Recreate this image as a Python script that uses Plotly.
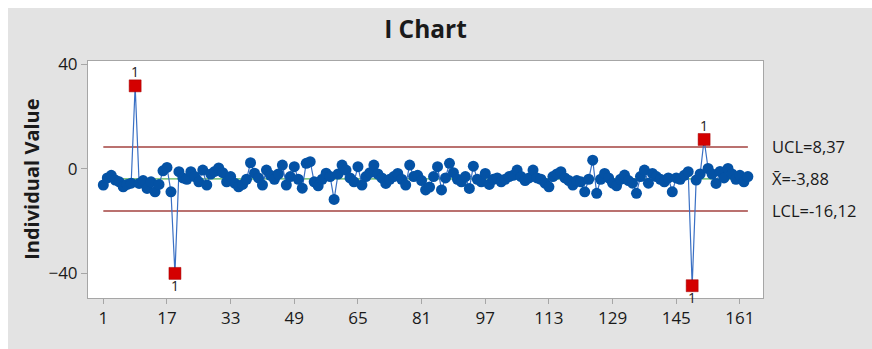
import plotly.graph_objects as go

# Individual observations (in order)
values = [
    -6.2, -3.5, -2.5, -4.3, -5.0, -6.9, -6.0, -5.5, 31.7, -5.6,
    -4.5, -7.5, -5.0, -8.8, -6.0, -0.8, 0.5, -8.8, -40.0, -1.1,
    -3.5, -4.0, -1.1, -3.0, -5.0, -0.5, -6.2, -2.0, -1.0, 0.3,
    -1.5, -5.0, -3.0, -5.5, -6.9, -6.0, -4.0, 2.3, -1.7, -3.5,
    -6.2, -0.5, -2.5, -4.0, -2.0, 1.4, -6.2, -3.0, 0.8, -4.0,
    -7.4, 2.1, 2.7, -5.0, -6.5, -4.0, -1.7, -3.0, -11.7, -2.0,
    1.4, -0.5, -3.5, -5.0, 0.8, -6.2, -3.0, -1.5, 1.4, -2.0,
    -3.5, -5.6, -4.0, -3.0, -1.8, -4.0, -6.2, 1.4, -3.0, -2.5,
    -4.5, -8.1, -7.0, -3.0, 0.8, -8.1, -3.5, 2.1, -1.5, -4.0,
    -5.0, -3.0, -7.5, 1.0, -4.0, -5.0, -1.8, -6.0, -4.0, -3.5,
    -5.0, -4.0, -3.0, -2.5, -0.5, -3.0, -4.5, -3.5, -0.5, -3.5,
    -4.0, -5.5, -6.9, -3.0, -2.0, -1.1, -3.5, -4.5, -6.2, -4.5,
    -5.0, -8.8, -4.0, 3.3, -9.4, -4.0, -1.8, -3.5, -5.5, -6.5,
    -4.0, -2.4, -4.5, -5.5, -9.4, -3.0, -0.5, -5.5, -1.8, -3.0,
    -4.0, -5.0, -3.5, -8.8, -3.5, -4.0, -2.5, -1.1, -44.7, -4.3,
    -2.0, 11.2, 0.1, -2.0, -5.6, -1.0, -3.5, 0.1, -2.0, -4.0,
    -2.5, -5.0, -3.0,
]
obs = list(range(1, len(values) + 1))

# Control limits
ucl = 8.37
center = -3.88
lcl = -16.12
limit_labels = ["UCL=8,37", "X\u0304=-3,88", "LCL=-16,12"]
limit_values = [ucl, center, lcl]

x_ticks = [1, 17, 33, 49, 65, 81, 97, 113, 129, 145, 161]
y_ticks = [40, 0, -40]

# Points failing test 1 (beyond the limits)
flag_x = [i for i, v in zip(obs, values) if v > ucl or v < lcl]
flag_y = [v for v in values if v > ucl or v < lcl]

TXT = "#1a1a1a"
FONT = "'Open Sans', Lato, sans-serif"

fig = go.Figure()

fig.add_trace(go.Scatter(
    x=[obs[0], obs[-1]], y=[center, center], mode="lines",
    line=dict(color="#2ca02c", width=1), hoverinfo="skip"))
fig.add_trace(go.Scatter(
    x=[obs[0], obs[-1]], y=[ucl, ucl], mode="lines",
    line=dict(color="#a3423f", width=1.5), hoverinfo="skip"))
fig.add_trace(go.Scatter(
    x=[obs[0], obs[-1]], y=[lcl, lcl], mode="lines",
    line=dict(color="#a3423f", width=1.5), hoverinfo="skip"))

fig.add_trace(go.Scatter(
    x=obs, y=values, mode="lines+markers",
    line=dict(color="#3a70c4", width=1.2),
    marker=dict(symbol="circle", size=11, color="#0452a5",
                line=dict(width=0))))
fig.add_trace(go.Scatter(
    x=flag_x, y=flag_y, mode="markers",
    marker=dict(symbol="square", size=12, color="#d40000",
                line=dict(width=0.5, color="#a00000"))))

for fx, fy in zip(flag_x, flag_y):
    fig.add_annotation(
        x=fx, y=fy, text="1", showarrow=False,
        yshift=14 if fy > center else -12,
        font=dict(family=FONT, size=14, color="#222222"))

for lab, val in zip(limit_labels, limit_values):
    fig.add_annotation(
        xref="paper", x=1, y=val, text=lab, showarrow=False,
        xanchor="left", xshift=7,
        font=dict(family=FONT, size=16.5, color=TXT))

fig.add_annotation(
    xref="paper", yref="paper", x=-0.084, y=0.5, text="<b>Individual Value</b>",
    textangle=-90, showarrow=False, xanchor="center", yanchor="middle",
    font=dict(family=FONT, size=20, color=TXT))

# White strips along the top and left edges of the gray panel
fig.add_shape(type="rect", xref="paper", yref="paper",
              x0=-0.2, x1=(8 - 88) / 675, y0=-0.3, y1=1.4,
              fillcolor="white", line_width=0, layer="below")
fig.add_shape(type="rect", xref="paper", yref="paper",
              x0=-0.2, x1=1.3, y0=(298 - 8) / 237, y1=1.4,
              fillcolor="white", line_width=0, layer="below")

fig.update_layout(
    width=872, height=349,
    margin=dict(l=88, r=109, t=61, b=51),
    paper_bgcolor="#e3e3e3", plot_bgcolor="white",
    showlegend=False,
    title=dict(text="<b>I Chart</b>", x=0.5, xref="paper", xanchor="center",
               y=1 - 29 / 349, yanchor="middle",
               font=dict(family=FONT, size=24.5, color=TXT)),
    xaxis=dict(range=[-2.85, 166.8], tickvals=x_ticks,
               ticktext=[str(t) for t in x_ticks],
               showgrid=False, zeroline=False, showline=True, mirror=True,
               linecolor="#a6a6a6", linewidth=1, ticks="outside",
               ticklen=5, tickcolor="#a6a6a6",
               tickfont=dict(family=FONT, size=17, color=TXT)),
    yaxis=dict(range=[-49.4, 41.2], tickvals=y_ticks,
               showgrid=False, zeroline=False, showline=True, mirror=True,
               linecolor="#a6a6a6", linewidth=1, ticks="outside",
               ticklen=6, tickcolor="#a6a6a6",
               tickfont=dict(family=FONT, size=17, color=TXT)),
)

fig.write_html("out.html")
